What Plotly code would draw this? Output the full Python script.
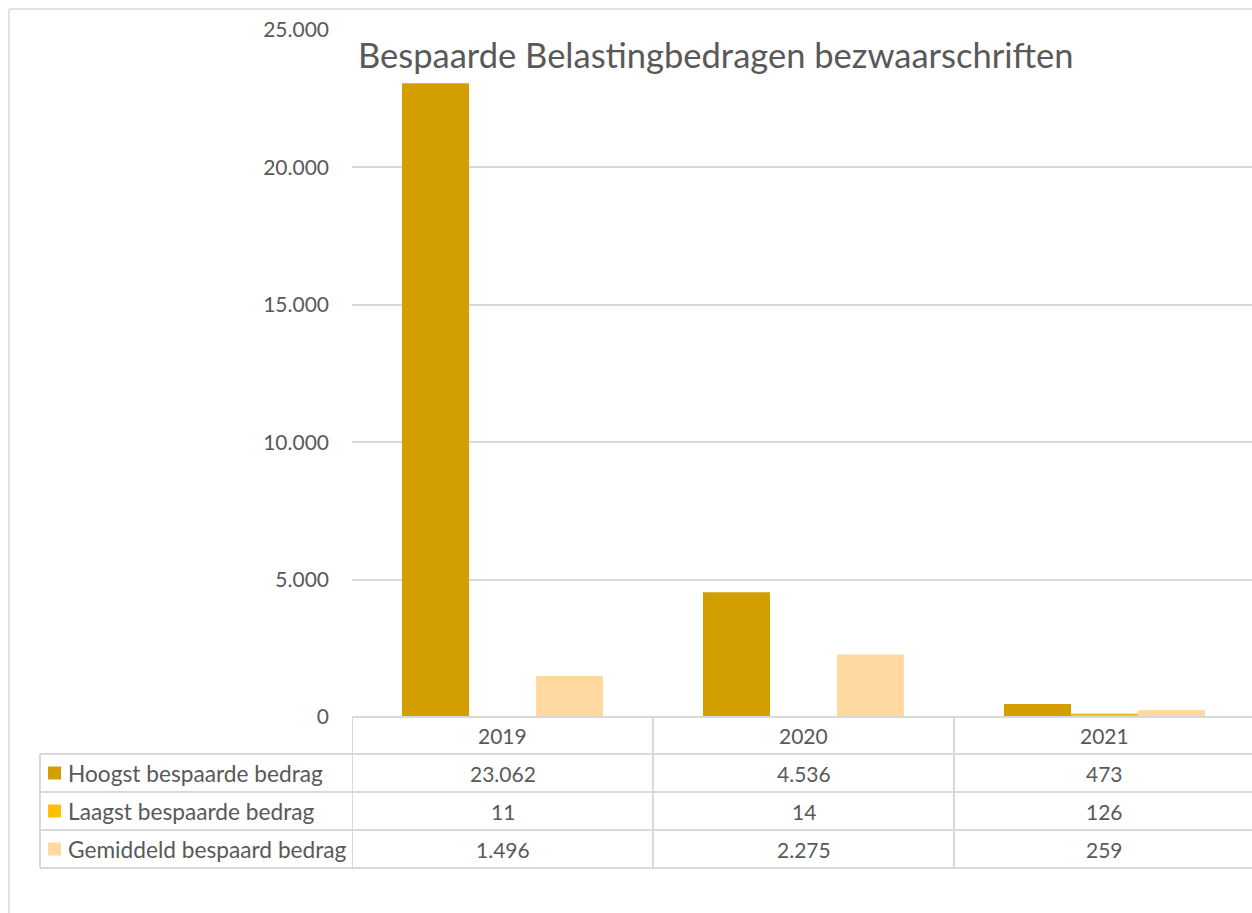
import plotly.graph_objects as go

categories = ["2019", "2020", "2021"]
series_names = ["Hoogst bespaarde bedrag", "Laagst bespaarde bedrag", "Gemiddeld bespaard bedrag"]
hoogst = [23062, 4536, 473]
laagst = [11, 14, 126]
gemiddeld = [1496, 2275, 259]
colors = ["#D29E00", "#FFC000", "#FFD9A0"]
title_text = "Bespaarde Belastingbedragen bezwaarschriften"

W, H = 1252, 913
FONT = "Lato"
TXT = "#595959"
LINE = "#D9D9D9"

def px(x):
    return x / W

def py(y):
    return 1 - y / H

def fmt(v):
    return f"{v:,}".replace(",", ".")

xs = list(range(len(categories)))
series = [hoogst, laagst, gemiddeld]

fig = go.Figure()
for name, vals, col in zip(series_names, series, colors):
    fig.add_trace(go.Bar(x=xs, y=vals, name=name, marker=dict(color=col, line=dict(width=0)),
                         showlegend=False, hoverinfo="skip"))

shapes = []
# outer chart border (left and top)
shapes.append(dict(type="line", xref="paper", yref="paper", x0=px(9), x1=px(9), y0=py(9), y1=0,
                   line=dict(color=LINE, width=1.5)))
shapes.append(dict(type="line", xref="paper", yref="paper", x0=px(9), x1=1, y0=py(9), y1=py(9),
                   line=dict(color=LINE, width=1.5)))

row_y = [717, 754, 792, 830, 868]
# horizontal table lines
shapes.append(dict(type="line", xref="paper", yref="paper", x0=px(352), x1=1, y0=py(row_y[0]), y1=py(row_y[0]),
                   line=dict(color=LINE, width=2)))
for yv in row_y[1:]:
    shapes.append(dict(type="line", xref="paper", yref="paper", x0=px(40), x1=1, y0=py(yv), y1=py(yv),
                       line=dict(color=LINE, width=2)))
# vertical table lines
shapes.append(dict(type="line", xref="paper", yref="paper", x0=px(40), x1=px(40), y0=py(row_y[1]), y1=py(row_y[-1]),
                   line=dict(color=LINE, width=2)))
for xv in [-0.5, 0.5, 1.5]:
    shapes.append(dict(type="line", xref="x", yref="paper", x0=xv, x1=xv, y0=py(row_y[0]), y1=py(row_y[-1]),
                       line=dict(color=LINE, width=2)))
# legend keys
for i, col in enumerate(colors):
    yc = (row_y[i + 1] + row_y[i + 2]) / 2
    shapes.append(dict(type="rect", xref="paper", yref="paper", x0=px(48), x1=px(61), y0=py(yc - 6.5), y1=py(yc + 6.5),
                       fillcolor=col, line=dict(width=0)))

annotations = []
annotations.append(dict(text=title_text, xref="paper", yref="paper", x=px(356), y=py(55), xanchor="left",
                        yanchor="middle", showarrow=False, font=dict(family=FONT, size=34.5, color=TXT)))
# header row
for i, c in enumerate(categories):
    annotations.append(dict(text=c, xref="x", yref="paper", x=xs[i], y=py((row_y[0] + row_y[1]) / 2),
                            xanchor="center", yanchor="middle", showarrow=False,
                            font=dict(family=FONT, size=21, color=TXT)))
for r, (name, vals) in enumerate(zip(series_names, series)):
    yc = (row_y[r + 1] + row_y[r + 2]) / 2
    annotations.append(dict(text=name, xref="paper", yref="paper", x=px(66), y=py(yc), xanchor="left",
                            yanchor="middle", showarrow=False, font=dict(family=FONT, size=22.7, color=TXT)))
    for i, v in enumerate(vals):
        annotations.append(dict(text=fmt(v), xref="x", yref="paper", x=xs[i], y=py(yc), xanchor="center",
                                yanchor="middle", showarrow=False, font=dict(family=FONT, size=21, color=TXT)))

fig.update_layout(
    width=W, height=H,
    margin=dict(l=0, r=0, t=0, b=0, pad=0, autoexpand=False),
    paper_bgcolor="white", plot_bgcolor="white",
    separators=",.",
    barmode="group", bargap=0.332, bargroupgap=0,
    font=dict(family=FONT, color=TXT),
    xaxis=dict(domain=[px(352), 1], range=[-0.5, 2.49], showticklabels=False, showgrid=False,
               zeroline=False, showline=False, ticks="", automargin=False),
    yaxis=dict(domain=[py(717), py(30)], range=[0, 25000], dtick=5000, tickformat=",d",
               showgrid=True, gridcolor=LINE, gridwidth=1.5, zeroline=False, showline=False, ticks="",
               ticklabelstandoff=22, tickfont=dict(family=FONT, size=21, color=TXT), automargin=False),
    shapes=shapes,
    annotations=annotations,
)

fig.write_html("out.html", config={"displayModeBar": False},
               post_script="document.body.style.margin='0';document.body.style.overflow='hidden';")
